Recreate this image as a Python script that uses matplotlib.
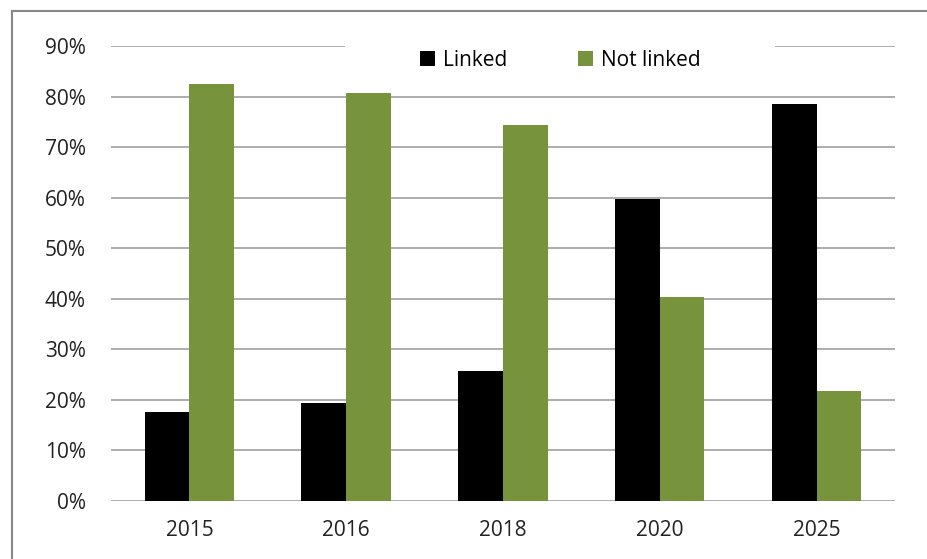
import numpy as np
import matplotlib.pyplot as plt
from matplotlib.ticker import PercentFormatter
from matplotlib.lines import Line2D
from matplotlib.patches import Rectangle

years = ['2015', '2016', '2018', '2020', '2025']
linked = [17.6, 19.4, 25.7, 59.7, 78.5]
not_linked = [82.5, 80.7, 74.4, 40.4, 21.8]

plt.rcParams['font.family'] = ['Open Sans', 'DejaVu Sans']

fig = plt.figure(figsize=(9.28, 5.59), dpi=100)
ax = fig.add_axes([0.1196, 0.1038, 0.9644 - 0.1196, 0.8139])

x = np.arange(len(years))
w = 0.285
ax.bar(x - w / 2, linked, w, color='black', label='Linked', zorder=3)
ax.bar(x + w / 2, not_linked, w, color='#77933C', label='Not linked', zorder=3)

ax.set_xlim(-0.5, len(years) - 0.5)
ax.set_ylim(0, 90)
ax.set_yticks(range(0, 91, 10))
ax.yaxis.set_major_formatter(PercentFormatter(decimals=0))
ax.set_xticks(x)
ax.set_xticklabels(years)
ax.tick_params(length=0, labelsize=15, colors='#222222')
ax.tick_params(axis='y', pad=18)
ax.tick_params(axis='x', pad=14)
ax.grid(axis='y', color='#a0a0a0', linewidth=1.2, zorder=0)
for s in ax.spines.values():
    s.set_visible(False)

# white space behind the legend, breaking the top gridline
ax.add_patch(Rectangle((0.2985, 0.96), 0.5485, 0.08, transform=ax.transAxes,
                       facecolor='white', edgecolor='none', zorder=4, clip_on=False))

leg = ax.legend(loc='center', bbox_to_anchor=(0.573, 0.968), ncol=2, frameon=False,
                fontsize=15, handlelength=0.7, handleheight=0.7, columnspacing=3.4,
                handletextpad=0.4, borderpad=0.2)
leg.set_zorder(5)

# outer chart border (top and left visible)
fig.add_artist(Line2D([12 / 928, 12 / 928], [0, 1 - 11 / 559], color='#888888', linewidth=1.5))
fig.add_artist(Line2D([12 / 928, 1], [1 - 11 / 559, 1 - 11 / 559], color='#888888', linewidth=1.5))

fig.savefig('out.png', dpi=100)
plt.close()
